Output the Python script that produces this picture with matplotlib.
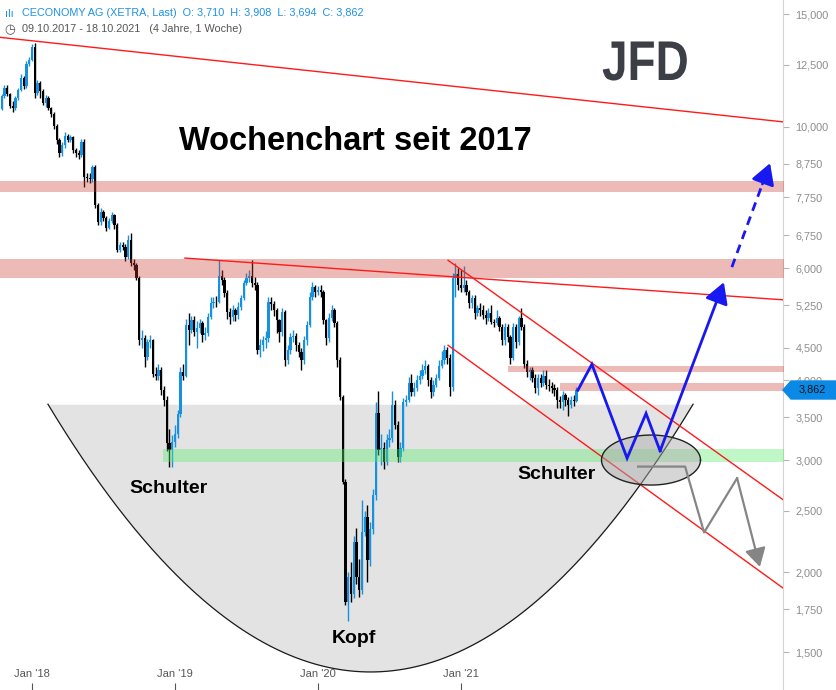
import numpy as np
import matplotlib
matplotlib.use("Agg")
import matplotlib.pyplot as plt
from matplotlib.patches import Polygon, PathPatch
from matplotlib.ticker import NullLocator
from matplotlib.textpath import TextPath
from matplotlib.font_manager import FontProperties
from matplotlib.transforms import Affine2D

plt.rcParams['font.family'] = ['Liberation Sans', 'DejaVu Sans']

# weekly candles, CECONOMY AG, week 0 = 09.10.2017
closes = [
    10.66, 11.17, 11.50, 11.25, 10.77, 10.70, 11.09, 11.42, 11.90, 11.58,
    12.55, 12.70, 13.32, 11.29, 11.71, 11.37, 10.89, 11.09, 10.70, 10.47,
    10.02, 9.52, 9.09, 9.35, 9.68, 9.52, 9.62, 9.19, 9.09, 9.02,
    9.45, 8.34, 8.30, 8.28, 8.64, 7.53, 7.09, 7.35, 7.19, 6.94,
    7.11, 7.27, 7.01, 6.40, 6.52, 6.47, 6.24, 6.64, 6.10, 6.06,
    5.79, 4.63, 4.66, 4.35, 4.59, 4.63, 4.10, 4.07, 4.15, 3.86,
    3.73, 3.19, 3.11, 3.20, 3.29, 3.54, 4.12, 4.07, 4.88, 4.80,
    4.97, 4.76, 4.83, 4.92, 4.71, 4.74, 5.03, 5.29, 5.31, 5.30,
    5.83, 5.75, 5.49, 5.12, 5.03, 5.16, 5.07, 5.22, 5.39, 5.69,
    5.79, 5.83, 5.69, 5.65, 4.46, 4.54, 4.63, 4.66, 5.31, 5.27,
    5.16, 4.97, 4.76, 5.12, 4.30, 4.46, 4.68, 4.69, 4.54, 4.43,
    4.30, 4.63, 4.88, 5.41, 5.61, 5.51, 5.54, 5.51, 4.97, 4.66,
    5.01, 5.16, 4.92, 4.30, 3.77, 2.77, 1.80, 1.97, 1.85, 2.23,
    1.97, 1.88, 2.31, 2.44, 2.09, 2.34, 2.64, 3.56, 3.11, 3.13,
    2.98, 3.22, 3.25, 3.66, 3.41, 3.03, 3.13, 3.70, 3.73, 3.96,
    3.83, 3.89, 4.00, 4.07, 4.15, 4.22, 4.00, 3.83, 3.93, 4.03,
    4.22, 4.30, 4.46, 4.33, 3.90, 5.79, 5.88, 5.65, 5.59, 5.65,
    5.51, 5.29, 5.39, 5.10, 5.20, 5.16, 5.07, 5.01, 5.10, 4.94,
    4.92, 5.01, 4.85, 4.63, 4.85, 4.68, 4.33, 4.85, 4.59, 5.01,
    4.85, 4.25, 4.12, 4.15, 4.04, 3.89, 4.03, 3.96, 4.07, 3.93,
    3.92, 3.89, 3.86, 3.73, 3.70, 3.79, 3.73, 3.66, 3.73, 3.71,
    3.862]
highs = [
    10.80, 11.25, 11.60, 11.62, 11.30, 10.95, 11.15, 11.50, 12.10, 12.00,
    12.65, 12.85, 13.45, 13.50, 11.85, 11.80, 11.45, 11.20, 11.15, 10.75,
    10.55, 10.10, 9.60, 9.45, 9.80, 9.75, 9.70, 9.65, 9.25, 9.20,
    9.55, 9.55, 8.45, 8.45, 8.70, 8.70, 7.60, 7.45, 7.40, 7.25,
    7.20, 7.35, 7.30, 7.05, 6.60, 6.60, 6.55, 6.75, 6.80, 6.20,
    6.10, 5.82, 4.80, 4.72, 4.65, 4.72, 4.65, 4.20, 4.25, 4.20,
    3.92, 3.78, 3.35, 3.28, 3.40, 3.60, 4.20, 4.25, 5.00, 5.10,
    5.05, 5.05, 4.95, 5.00, 4.95, 4.85, 5.10, 5.40, 5.40, 5.42,
    6.17, 5.95, 5.80, 5.55, 5.20, 5.25, 5.20, 5.30, 5.45, 5.75,
    5.90, 5.95, 6.17, 5.80, 5.70, 4.65, 4.70, 4.78, 5.40, 5.40,
    5.33, 5.20, 5.00, 5.20, 5.15, 4.55, 4.75, 4.80, 4.75, 4.60,
    4.50, 4.70, 4.95, 5.50, 5.70, 5.65, 5.62, 5.65, 5.55, 5.00,
    5.10, 5.25, 5.20, 4.95, 4.35, 3.80, 2.80, 2.00, 2.08, 2.28,
    2.35, 2.10, 2.60, 2.50, 2.55, 2.40, 2.70, 3.70, 3.85, 3.30,
    3.20, 3.30, 3.35, 3.85, 3.72, 3.45, 3.20, 3.75, 3.80, 4.05,
    4.10, 3.98, 4.08, 4.15, 4.25, 4.30, 4.25, 4.05, 4.00, 4.10,
    4.30, 4.45, 4.55, 4.52, 4.40, 5.90, 6.10, 6.00, 5.95, 6.05,
    5.75, 5.55, 5.45, 5.45, 5.25, 5.28, 5.25, 5.15, 5.20, 5.25,
    5.00, 5.15, 5.05, 4.90, 4.92, 4.90, 4.72, 4.92, 4.90, 5.05,
    5.20, 4.90, 4.30, 4.20, 4.20, 4.10, 4.10, 4.10, 4.15, 4.15,
    4.02, 3.98, 3.95, 3.90, 3.78, 3.85, 3.82, 3.76, 3.78, 3.80,
    3.908]
lows = [
    10.20, 10.60, 11.10, 11.15, 10.70, 10.55, 10.62, 11.00, 11.35, 11.45,
    11.50, 12.45, 12.65, 11.10, 11.20, 11.10, 10.80, 10.75, 10.60, 10.35,
    9.90, 9.40, 8.95, 9.00, 9.25, 9.45, 9.45, 9.10, 8.95, 8.90,
    8.95, 8.05, 8.20, 8.15, 8.20, 7.45, 7.00, 7.00, 7.10, 6.85,
    6.90, 7.05, 6.90, 6.35, 6.35, 6.40, 6.15, 6.20, 6.05, 5.95,
    5.75, 4.55, 4.50, 4.20, 4.30, 4.50, 4.05, 4.00, 4.00, 3.80,
    3.65, 3.10, 2.93, 2.93, 3.15, 3.25, 3.50, 4.00, 4.05, 4.55,
    4.75, 4.70, 4.50, 4.75, 4.60, 4.62, 4.70, 5.00, 5.20, 5.22,
    5.28, 5.65, 5.40, 5.00, 4.90, 4.95, 4.95, 5.00, 5.15, 5.35,
    5.65, 5.70, 5.60, 5.55, 4.40, 4.35, 4.45, 4.50, 4.60, 5.15,
    5.05, 4.75, 4.60, 4.70, 4.22, 4.25, 4.40, 4.60, 4.45, 4.35,
    4.15, 4.25, 4.55, 4.85, 5.35, 5.40, 5.45, 5.40, 4.90, 4.55,
    4.60, 4.95, 4.85, 4.20, 3.72, 2.75, 1.78, 1.68, 1.80, 1.82,
    1.92, 1.83, 1.85, 2.28, 1.93, 2.05, 2.30, 2.60, 3.05, 2.95,
    2.90, 2.95, 3.15, 3.20, 3.35, 2.98, 2.98, 3.10, 3.65, 3.70,
    3.78, 3.78, 3.85, 3.95, 4.02, 4.10, 3.92, 3.75, 3.78, 3.90,
    4.00, 4.18, 4.25, 4.25, 3.78, 3.85, 5.40, 5.55, 5.50, 5.50,
    5.45, 5.20, 5.20, 5.00, 5.05, 5.05, 5.00, 4.90, 4.95, 4.90,
    4.85, 4.88, 4.78, 4.55, 4.55, 4.60, 4.25, 4.30, 4.50, 4.55,
    4.80, 4.18, 4.05, 4.00, 3.98, 3.82, 3.80, 3.90, 3.92, 3.88,
    3.85, 3.82, 3.78, 3.62, 3.62, 3.60, 3.65, 3.52, 3.62, 3.65,
    3.694]
first_open = 10.35
opens = [first_open] + closes[:-1]

tick_weeks = [12, 64, 116, 168]
tick_names = ["Jan '18", "Jan '19", "Jan '20", "Jan '21"]
price_ticks = [15, 12.5, 10, 8.75, 7.75, 6.75, 6, 5.25, 4.5, 4, 3.5, 3, 2.5, 2, 1.75, 1.5]

# drawn analysis (week, price)
resist_line = [(0.36, 13.8), (285.1, 10.17)]
neck_line = [(67.6, 6.22), (285.1, 5.35)]
chan_upper = [(163.3, 6.17), (285.1, 2.60)]
chan_lower = [(163.3, 4.54), (285.1, 1.89)]
pink_zones = [(0.0, 7.90, 8.22), (0.0, 5.79, 6.20), (185.1, 4.12, 4.22), (204.0, 3.85, 3.96)]
green_zone = (59.6, 2.98, 3.12)
bowl = dict(left=17.8, right=252.4, top=3.67, bottom=1.396)
oval = dict(week=237.1, price=3.0, half_w=18.0, ratio=1.0945)
blue_path = [(210.5, 3.86), (215.6, 4.24), (228.4, 3.02), (235.3, 3.55), (240.4, 3.10), (263.6, 5.70)]
blue_dash = [(266.5, 6.02), (280.4, 8.76)]
grey_path = [(232.4, 2.93), (249.5, 2.93), (256.4, 2.31), (268.4, 2.81), (276.7, 2.04)]

W, H = 836, 690
fig = plt.figure(figsize=(W / 100, H / 100), dpi=100)
ax = fig.add_axes([0, 0, 783 / W, 1])
ax.set_yscale('log')
ax.set_xlim(0.364, 285.1)
ax.set_ylim(1.308, 15.79)

up_col = '#1591e0'
weeks = np.arange(len(closes))
o = np.array(opens); c = np.array(closes)
cols = [up_col if cc >= oo else '#000000' for oo, cc in zip(o, c)]
ax.vlines(weeks, lows, highs, colors=cols, lw=1, zorder=3)
lo = np.minimum(o, c); hi = np.maximum(o, c)
hi = np.maximum(hi, lo * 1.003)
ax.bar(weeks, hi - lo, bottom=lo, width=0.78, color=cols, lw=0, zorder=3)

# bowl (head and shoulders base)
bw = np.linspace(bowl['left'], bowl['right'], 300)
mid = (bowl['left'] + bowl['right']) / 2
u = (bw - mid) / (bowl['right'] - mid)
curve = np.exp(np.log(bowl['top']) + (np.log(bowl['bottom']) - np.log(bowl['top'])) * (1 - u ** 2))
ax.fill_between(bw, curve, bowl['top'], color='#e3e3e3', lw=0, zorder=1)
ax.plot(bw, curve, color='#1a1a1a', lw=0.9, zorder=5)

# zones
for w0, p0, p1 in pink_zones:
    ax.fill_between([w0, 290], p0, p1, color=(0.80, 0.24, 0.20), alpha=0.35, lw=0, zorder=4)
ax.fill_between([green_zone[0], 290], green_zone[1], green_zone[2],
                color=(0.35, 0.92, 0.43), alpha=0.38, lw=0, zorder=4)

# trend lines
for ln in (resist_line, neck_line, chan_upper, chan_lower):
    ax.plot([ln[0][0], ln[1][0]], [ln[0][1], ln[1][1]], color='#ff1a1a', lw=1, zorder=5)

# oval
t = np.linspace(0, 2 * np.pi, 200)
ow = oval['week'] + oval['half_w'] * np.cos(t)
op = oval['price'] * oval['ratio'] ** np.sin(t)
ax.fill(ow, op, color=(0.67, 0.67, 0.67), alpha=0.48, lw=0, zorder=5)
ax.plot(ow, op, color='#222222', lw=1, zorder=6)

# scenario paths
blue = '#1818f0'
bx, by = zip(*blue_path)
ax.plot(bx[:-1], by[:-1], color=blue, lw=2, zorder=7, solid_joinstyle='miter')
ax.annotate('', xy=blue_path[-1], xytext=blue_path[-2],
            arrowprops=dict(arrowstyle='-|>,head_length=0.7,head_width=0.4', color=blue,
                            lw=2, mutation_scale=18, shrinkA=0, shrinkB=0), zorder=7)
(dx0, dy0), (dx1, dy1) = blue_dash
ax.plot([dx0, dx0 + (dx1 - dx0) * 0.85], [dy0, dy0 * (dy1 / dy0) ** 0.85], color=blue, lw=2,
        ls=(0, (3.2, 2.2)), zorder=7)
ax.annotate('', xy=blue_dash[1], xytext=(dx0 + (dx1 - dx0) * 0.8, dy0 * (dy1 / dy0) ** 0.8),
            arrowprops=dict(arrowstyle='-|>,head_length=0.7,head_width=0.4', color=blue,
                            lw=2, mutation_scale=18, shrinkA=0, shrinkB=0), zorder=7)
grey = '#858585'
gx, gy = zip(*grey_path)
ax.plot(gx[:-1], gy[:-1], color=grey, lw=1.6, zorder=7)
ax.annotate('', xy=grey_path[-1], xytext=grey_path[-2],
            arrowprops=dict(arrowstyle='-|>,head_length=0.7,head_width=0.4', color=grey,
                            lw=1.6, mutation_scale=16, shrinkA=0, shrinkB=0), zorder=7)

# axes styling
for s in ('top', 'left', 'bottom'):
    ax.spines[s].set_visible(False)
ax.spines['right'].set_color('#d4d4d4')
ax.yaxis.tick_right()
ax.set_yticks(price_ticks)
ax.set_yticklabels([f"{v:.3f}".replace('.', ',') for v in price_ticks])
ax.yaxis.set_minor_locator(NullLocator())
ax.tick_params(axis='y', direction='out', length=4, width=0.8, color='#b5b5b5',
               labelcolor='#8c8c8c', labelsize=7.8, pad=5)
ax.set_xticks(tick_weeks)
ax.set_xticklabels(tick_names)
ax.tick_params(axis='x', direction='in', length=5, width=0.8, color='#555555',
               labelcolor='#555555', labelsize=8, pad=-15)


def fx(px):
    return px / W


def fy(py):
    return 1 - py / H


# last price tag
tag = Polygon([(fx(783), fy(390)), (fx(791), fy(381)), (fx(836), fy(381)),
               (fx(836), fy(399)), (fx(791), fy(399))], closed=True,
              transform=fig.transFigure, color='#0a8ae6', zorder=5)
fig.add_artist(tag)
fig.text(fx(812), fy(390), f"{closes[-1]:.3f}".replace('.', ','), ha='center', va='center',
         fontsize=7.8, color='#111111', zorder=6)

# texts
fig.text(fx(355), fy(150), 'Wochenchart seit 2017', ha='center', va='baseline',
         fontsize=23.5, fontweight='bold', color='black')
fig.text(fx(169), fy(493), 'Schulter', ha='center', va='baseline', fontsize=14, fontweight='bold')
fig.text(fx(556), fy(479), 'Schulter', ha='center', va='baseline', fontsize=14, fontweight='bold')
fig.text(fx(354), fy(643), 'Kopf', ha='center', va='baseline', fontsize=14, fontweight='bold')

# logo, condensed by scaling the glyph outlines (pixel coordinates)
logo = TextPath((0, 0), 'JFD', size=56, prop=FontProperties(family='Liberation Sans', weight='bold'))
fig.add_artist(PathPatch(logo, transform=Affine2D().scale(0.82, 1).translate(602, H - 80),
                         facecolor='#3c3f46', edgecolor='none'))

fig.text(fx(22), fy(16), 'CECONOMY AG (XETRA, Last)  O: 3,710  H: 3,908  L: 3,694  C: 3,862',
         ha='left', va='baseline', fontsize=7.8, color='#1e90e6')
fig.text(fx(5), fy(17), 'ılı', ha='left', va='baseline', fontsize=8, color='#1e90e6')
fig.text(fx(22), fy(32), '09.10.2017 - 18.10.2021   (4 Jahre, 1 Woche)',
         ha='left', va='baseline', fontsize=7.8, color='#555555')
fig.text(fx(4), fy(33), '◷', ha='left', va='baseline', fontsize=9, color='#555555',
         family=['DejaVu Sans'])

fig.savefig('out.png', dpi=100)
